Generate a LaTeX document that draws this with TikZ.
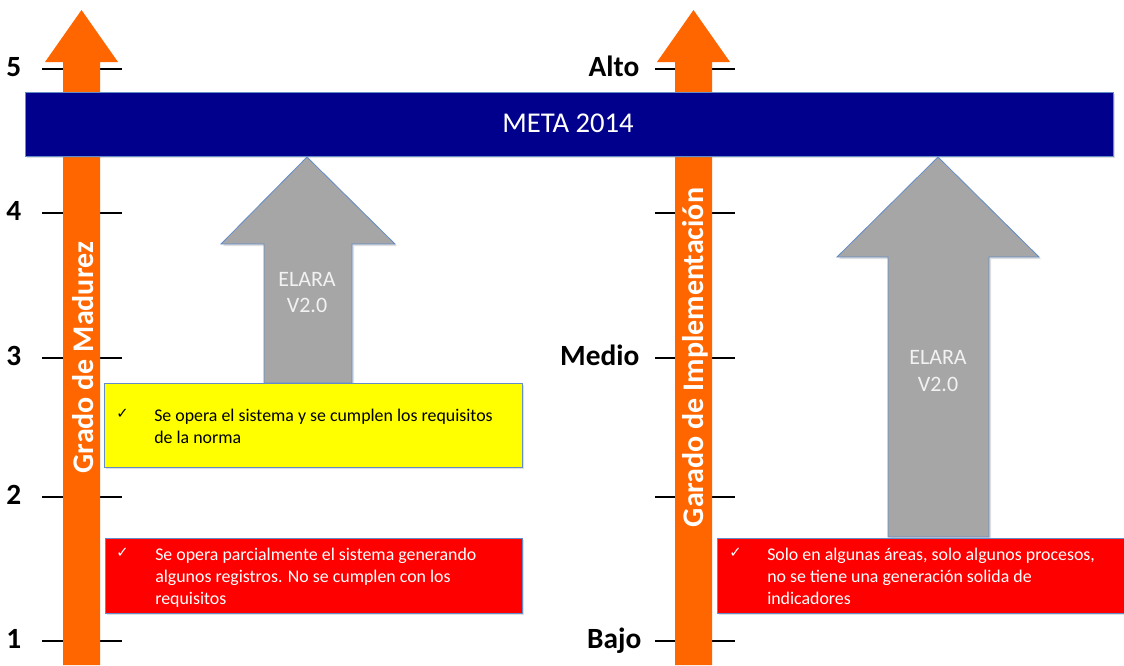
\documentclass[tikz,border=0pt]{standalone}
\usepackage{fontspec}
\setmainfont{Carlito}
\newfontfamily\checkfont{DejaVu Sans}
\usetikzlibrary{shadows}

\definecolor{naranja}{RGB}{255,102,0}
\definecolor{azulMeta}{RGB}{0,0,140}
\definecolor{grisFlecha}{RGB}{166,166,166}
\definecolor{bordeAzul}{RGB}{100,140,200}
\definecolor{amarillo}{RGB}{255,255,0}
\definecolor{rojo}{RGB}{255,0,0}
\definecolor{claro}{RGB}{242,242,242}

\tikzset{
  naranjaArrow/.style={fill=naranja},
  grisArrow/.style={fill=grisFlecha,draw=bordeAzul,line width=0.6pt,
    drop shadow={shadow xshift=1.5pt,shadow yshift=-1.5pt,opacity=0.25}},
  cajaBox/.style={draw=bordeAzul,line width=0.6pt,
    drop shadow={shadow xshift=1.5pt,shadow yshift=-1.5pt,opacity=0.25}},
  nivel/.style={anchor=base east,font=\fontsize{22}{25}\selectfont\bfseries},
  eje/.style={rotate=90,anchor=base,text=white,font=\fontsize{22.5}{26}\selectfont\bfseries},
  marca/.style={anchor=base west,inner sep=0pt,font=\checkfont\fontsize{11}{13}\selectfont},
  texto/.style={anchor=north west,inner sep=0pt,align=left,font=\fontsize{13.4}{16.5}\selectfont},
  elara/.style={align=center,inner sep=0pt,text=claro,font=\fontsize{16.5}{20}\selectfont}
}

\begin{document}
\begin{tikzpicture}[x=0.75pt,y=-0.75pt]
  \useasboundingbox (0,0) rectangle (1124,665);

  % marcas de nivel
  \begin{scope}[line width=2pt]
    \foreach \y in {69,213,358,497,641} {
      \draw (42,\y) -- (122,\y);
      \draw (655,\y) -- (735,\y);
    }
  \end{scope}

  % ejes naranjas
  \fill[naranjaArrow] (63,665) -- (63,62) -- (45,62) -- (81.5,10) -- (118,62) -- (100,62) -- (100,665) -- cycle;
  \fill[naranjaArrow] (675,665) -- (675,62) -- (657,62) -- (693.5,10) -- (730,62) -- (712,62) -- (712,665) -- cycle;

  \node[eje] (madurez) at (93,357.5) {Grado de Madurez};
  \node[eje] (implem) at (703,357.5) {Garado de Implementación};

  % niveles
  \node[nivel] (n5) at (26,76)  {5};
  \node[nivel] (n4) at (26,220) {4};
  \node[nivel] (n3) at (26,365) {3};
  \node[nivel] (n2) at (26,504) {2};
  \node[nivel] (n1) at (26,648) {1};
  \node[nivel] (alto)  at (644,76)  {Alto};
  \node[nivel] (medio) at (644,365) {Medio};
  \node[nivel] (bajo)  at (646,648) {Bajo};

  % meta
  \filldraw[cajaBox,fill=azulMeta] (25,92) rectangle (1113,156);
  \node[anchor=base,text=white,font=\fontsize{21.5}{25}\selectfont] (meta) at (568,132) {META 2014};

  % flechas ELARA
  \filldraw[grisArrow] (264,383) -- (264,244) -- (221,244) -- (307,157) -- (395,244) -- (352,244) -- (352,383) -- cycle;
  \filldraw[grisArrow] (888,537) -- (888,257) -- (837,257) -- (938,157) -- (1039,257) -- (989,257) -- (989,537) -- cycle;
  \node[elara] (elaraA) at (307,292.5) {ELARA\\V2.0};
  \node[elara] (elaraB) at (938,371) {ELARA\\V2.0};

  % cajas
  \filldraw[cajaBox,fill=amarillo] (104,383) rectangle (522,467);
  \filldraw[cajaBox,fill=rojo] (105,538) rectangle (522,613);
  \filldraw[cajaBox,fill=rojo] (717,538) rectangle (1130,613);

  \node[marca] (okA) at (116,418) {✓};
  \node[texto] (txtA) at (154,405.6) {\strut Se opera el sistema y se cumplen los requisitos\\de la norma};

  \node[marca,text=white] (okB) at (116,557) {✓};
  \node[texto,text=white] (txtB) at (155,544.6) {\strut Se opera parcialmente el sistema generando\\algunos registros. No se cumplen con los\\requisitos};

  \node[marca,text=white] (okC) at (729,557) {✓};
  \node[texto,text=white] (txtC) at (767,544.6) {\strut Solo en algunas áreas, solo algunos procesos,\\no se tiene una generación solida de\\indicadores};

\end{tikzpicture}
\end{document}
